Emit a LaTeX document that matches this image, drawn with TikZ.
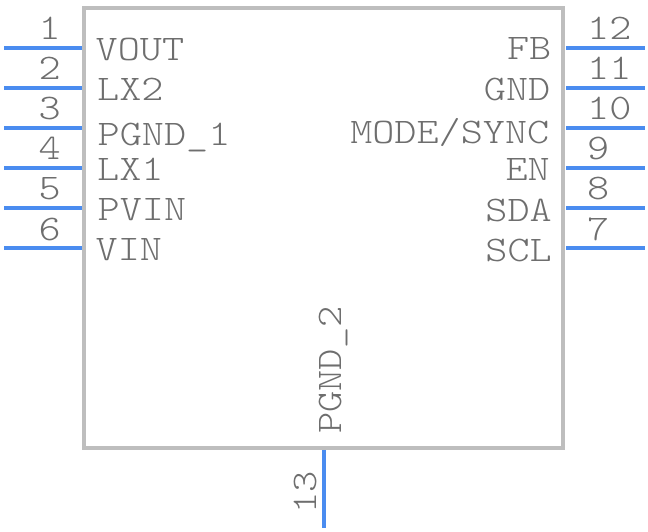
\documentclass[tikz,border=0pt]{standalone}
\usepackage{fontspec}
\setmonofont{Latin Modern Mono Light}
\definecolor{pinblue}{HTML}{4A8CF0}
\definecolor{bodygray}{HTML}{BEBEBE}
\definecolor{textgray}{HTML}{6E6E6E}
\tikzset{
  pinline/.style={draw=pinblue, line width=3.8pt},
  pintext/.style={text=textgray, inner sep=0pt, font=\fontsize{36}{36}\selectfont\ttfamily, xscale=1.17, transform shape},
}

\begin{document}
\begin{tikzpicture}[x=1pt, y=-1pt]
    \useasboundingbox (0,0) rectangle (648,532);
    \node[draw=bodygray, line width=4pt, minimum width=479pt, minimum height=440pt, inner sep=0pt, outer sep=0pt, anchor=north west] (chip) at (84,8) {};
    % left side
    \foreach \i/\pname/\tx/\ty in {1/VOUT/95.5/61, 2/LX2/97/101, 3/PGND\_1/97.5/146, 4/LX1/97/181, 5/PVIN/97.5/220, 6/VIN/95.5/260}{
        \coordinate (l\i) at (4, 8+40*\i);
        \coordinate (p\i) at (82, 8+40*\i);
        \draw[pinline] (l\i) -- (p\i);
        \node[pintext, anchor=base east] (num\i) at (61, 40*\i) {\i};
        \node[pintext, anchor=base west] (name\i) at (\tx,\ty) {\pname};
    }
    % right side
    \foreach \i/\pname/\tx/\ty in {12/FB/551.5/60, 11/GND/550.5/101, 10/MODE\slash SYNC/549.5/144, 9/EN/550/181, 8/SDA/552/221, 7/SCL/552/261}{
        \coordinate (r\i) at (645, 8+40*13-40*\i);
        \coordinate (p\i) at (566, 8+40*13-40*\i);
        \draw[pinline] (p\i) -- (r\i);
        \node[pintext, anchor=base west] (num\i) at (587, 40*13-40*\i) {\i};
        \node[pintext, anchor=base east] (name\i) at (\tx,\ty) {\pname};
    }
    % bottom
    \coordinate (b13) at (324, 528);
    \coordinate (p13) at (324, 450);
    \draw[pinline] (p13) -- (b13);
    \node[rotate=90, pintext, xscale=0.96, anchor=base west] (num13) at (316, 514) {13};
    \node[rotate=90, pintext, xscale=0.96, anchor=base west] (name13) at (341, 434) {PGND\_2};
\end{tikzpicture}
\end{document}
